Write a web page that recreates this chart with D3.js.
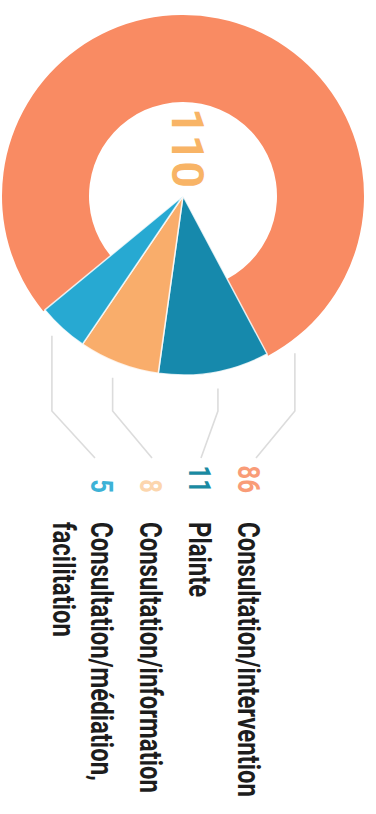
<!DOCTYPE html>
<html>
<head>
<meta charset="utf-8">
<script src="https://cdn.jsdelivr.net/npm/d3@7"></script>
<style>
  html, body { margin: 0; padding: 0; background: #fff; }
  svg { display: block; }
  text { font-family: Roboto, "Liberation Sans", sans-serif; }
</style>
</head>
<body>
<svg id="chart" width="376" height="814"></svg>
<script>
// ---- data ----
const categories = ["Consultation/intervention", "Plainte", "Consultation/information", "Consultation/médiation, facilitation"];
const labelLines = [["Consultation/intervention"], ["Plainte"], ["Consultation/information"], ["Consultation/médiation,", "facilitation"]];
const values = [86, 11, 8, 5];
const totalLabel = "110";

// ---- styles ----
const sliceColors = ["#F98B63", "#1689AC", "#F9AD6B", "#27A9D2"];
const numberColors = ["#F99C78", "#1A8AA2", "#FCD6AE", "#3DB2D6"];
const totalColor = "#F8B466";
const labelColor = "#1d1d1d";
const leaderColor = "#dcdcdc";

const svg = d3.select("#chart");
const cx = 183, cy = 196;
const rOuter = 181, rInner = 94, rWedge = 179;
const deg = Math.PI / 180;

// pie: big slice first, starting lower-left, going clockwise
const pie = d3.pie().sort(null).value(d => d)
  .startAngle(230.5 * deg).endAngle(230.5 * deg + 2 * Math.PI);
const arcsData = pie(values);

const g = svg.append("g").attr("transform", `translate(${cx},${cy})`);

const donutArc = d3.arc().innerRadius(rInner).outerRadius(rOuter);
const wedgeArc = d3.arc().innerRadius(0).outerRadius(rWedge);

g.selectAll("path.slice")
  .data(arcsData)
  .join("path")
  .attr("class", "slice")
  .attr("d", (d, i) => i === 0 ? donutArc(d) : wedgeArc(d))
  .attr("fill", (d, i) => sliceColors[i])
  .attr("stroke", "#fff")
  .attr("stroke-opacity", 0.8)
  .attr("stroke-width", (d, i) => i === 0 ? 0 : 1.5)
  .attr("stroke-linejoin", "round");

// center total, rotated
const totalText = svg.append("text")
  .text(totalLabel)
  .attr("font-size", 44)
  .attr("font-weight", 700)
  .attr("fill", totalColor)
  .attr("text-anchor", "middle");
const totalLen = totalText.node().getComputedTextLength();
const totalScale = 80 / totalLen;
totalText.attr("transform", `translate(172,148) rotate(90) scale(${totalScale},1)`);

// ---- labels (rotated 90deg) ----
const fontSize = 32;
const probe = svg.append("text")
  .attr("font-size", fontSize).attr("font-weight", 700)
  .text(labelLines[0][0]);
const sx = 275 / probe.node().getComputedTextLength();
probe.remove();

const groupX0 = 238, groupStep = 49, lineStep = 38;
const numEndY = 493, labelStartY = 522;

const labelBase = [];
let x = groupX0;
labelLines.forEach((lines, i) => {
  labelBase.push(x);
  x -= groupStep + (lines.length - 1) * lineStep;
});

const labels = svg.append("g");
labelLines.forEach((lines, i) => {
  const bx = labelBase[i];
  labels.append("text")
    .text(values[i])
    .attr("font-size", fontSize)
    .attr("font-weight", 700)
    .attr("fill", numberColors[i])
    .attr("text-anchor", "end")
    .attr("transform", `translate(${bx},${numEndY}) rotate(90) scale(${sx},1)`);
  lines.forEach((ln, j) => {
    labels.append("text")
      .text(ln)
      .attr("font-size", fontSize)
      .attr("font-weight", 700)
      .attr("fill", labelColor)
      .attr("transform", `translate(${bx - j * lineStep},${labelStartY}) rotate(90) scale(${sx},1)`);
  });
});

// ---- leader lines ----
const leaderFrac = [0.964, 0.47, 0.57, 0.75];
const elbowY = 411, endY = 458;
const leaders = svg.append("g");
arcsData.forEach((d, i) => {
  const a = d.startAngle + (d.endAngle - d.startAngle) * leaderFrac[i];
  const ax = cx + rOuter * Math.sin(a);
  const ay = cy - rOuter * Math.cos(a) + 15;
  const tx = labelBase[i] + 12 - (i === 3 ? 8 : 0) + (i === 0 ? 6 : 0);
  leaders.append("path")
    .attr("d", d3.line()([[ax, ay], [ax, elbowY], [tx, endY]]))
    .attr("fill", "none")
    .attr("stroke", leaderColor)
    .attr("stroke-width", 1.6);
});
</script>
</body>
</html>
